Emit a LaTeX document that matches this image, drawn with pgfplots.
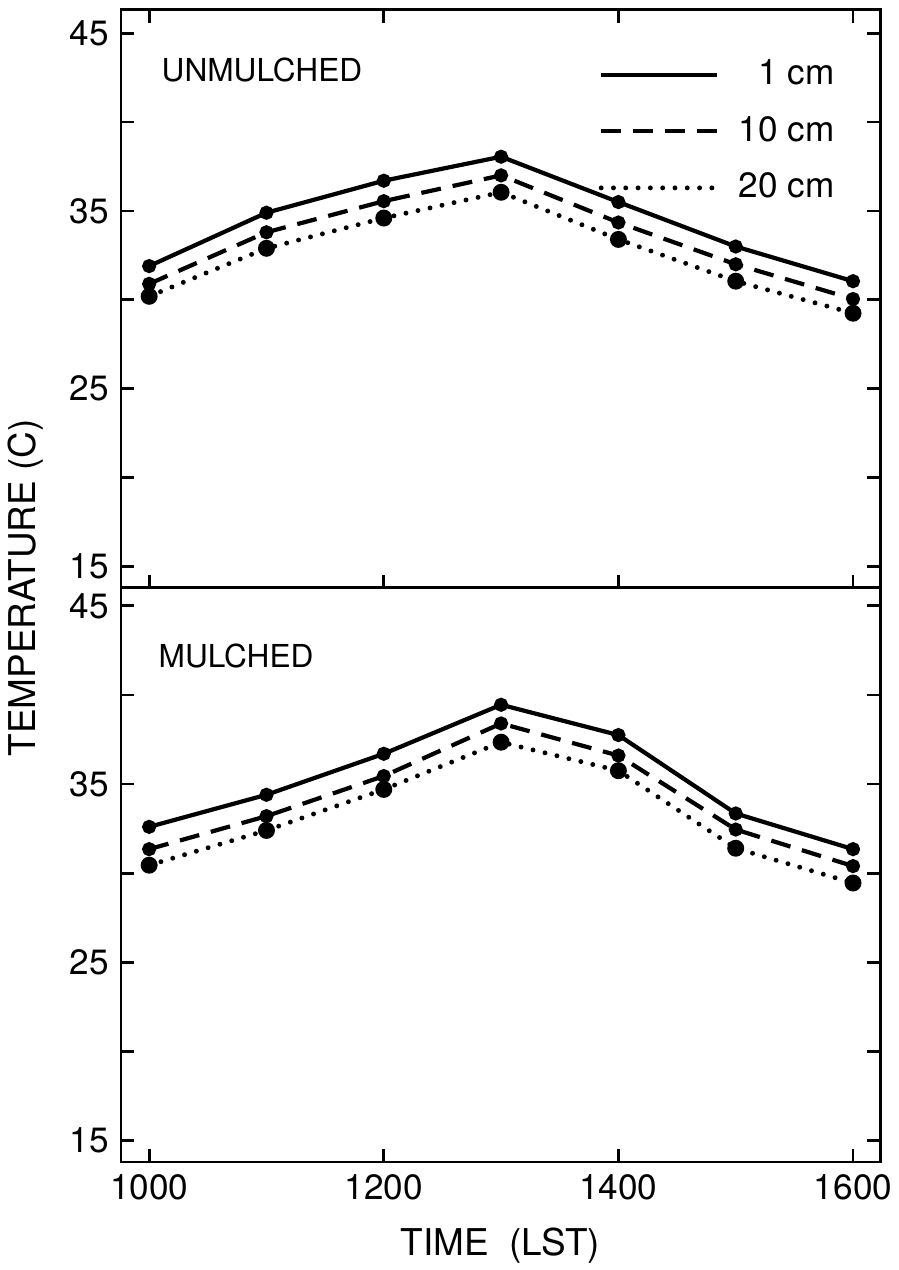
\documentclass[border=0pt]{standalone}
\usepackage{pgfplots}
\pgfplotsset{compat=1.18}
\usepackage{fontspec}
\setmainfont{TeX Gyre Heros}
\pgfplotsset{
  panel/.style={
    scale only axis,
    width=7.59cm,
    xmin=976, xmax=1623,
    xtick={1000,1200,1400,1600},
    ytick={15,20,25,30,35,40,45},
    yticklabels={15,,25,,35,,45},
    tick align=inside,
    major tick length=0.13cm,
    axis line style={line width=0.85pt},
    every tick/.style={line width=0.8pt, black},
    ticklabel style={font=\fontsize{10}{12}\selectfont},
    /pgf/number format/assume math mode=true,
    /pgf/number format/1000 sep={},
    ytick pos=both,
  },
  s1/.style={black, line width=1.2pt, mark=*, mark size=1.4pt, mark options={solid}},
  s2/.style={black, line width=1.2pt, dash pattern=on 0.2cm off 0.12cm, mark=*, mark size=1.4pt, mark options={solid}},
  s3/.style={black, line width=1.4pt, line cap=round, dash pattern=on 0pt off 3.5pt, mark=*, mark size=1.7pt, mark options={solid}},
}
\begin{document}
\begin{tikzpicture}
\path[use as bounding box] (0,0) rectangle (8.99cm,12.7cm);
% top panel
\begin{axis}[panel,
  at={(1.21cm,6.82cm)}, anchor=south west,
  height=5.78cm,
  ymin=13.8, ymax=46.3,
  xtick pos=both,
  xticklabels={},
  legend cell align=right,
  legend style={draw=none, fill=none, at={(1,1)}, anchor=north east,
    xshift=-0.45cm, yshift=-0.49cm, inner sep=0pt,
    nodes={inner sep=0pt}, row sep=7.5pt,
    font=\fontsize{10}{12}\selectfont,
    /tikz/every odd column/.append style={column sep=0.19cm}},
  legend image code/.code={\draw[#1] (0cm,0cm) -- (1.16cm,0cm);},
]
\addplot[s1] coordinates {(1000,31.9)(1100,34.9)(1200,36.7)(1300,38.05)(1400,35.5)(1500,33.0)(1600,31.05)};
\addlegendentry{1 cm}
\addplot[s2] coordinates {(1000,30.9)(1100,33.8)(1200,35.55)(1300,37.0)(1400,34.35)(1500,32.0)(1600,30.05)};
\addlegendentry{10 cm}
\addplot[s3] coordinates {(1000,30.2)(1100,32.9)(1200,34.6)(1300,36.05)(1400,33.4)(1500,31.05)(1600,29.25)};
\addlegendentry{20 cm}
\node[anchor=west, inner sep=0pt, font=\fontsize{9}{11}\selectfont] at (rel axis cs:0.0527,0.896) {UNMULCHED};
\end{axis}
% bottom panel
\begin{axis}[panel,
  at={(1.21cm,1.08cm)}, anchor=south west,
  height=5.74cm,
  ymin=13.8, ymax=46.0,
  xtick pos=bottom,
  xlabel={TIME\ \ (LST)},
  xlabel style={at={(axis description cs:0.5,0)}, anchor=center, yshift=-0.84cm, font=\fontsize{10.5}{12}\selectfont},
]
\addplot[s1] coordinates {(1000,32.6)(1100,34.4)(1200,36.7)(1300,39.45)(1400,37.75)(1500,33.35)(1600,31.35)};
\addplot[s2] coordinates {(1000,31.35)(1100,33.2)(1200,35.45)(1300,38.4)(1400,36.6)(1500,32.45)(1600,30.4)};
\addplot[s3] coordinates {(1000,30.45)(1100,32.4)(1200,34.7)(1300,37.35)(1400,35.75)(1500,31.4)(1600,29.45)};
\node[anchor=west, inner sep=0pt, font=\fontsize{9}{11}\selectfont] at (rel axis cs:0.0487,0.882) {MULCHED};
\end{axis}
\node[rotate=90, font=\fontsize{10.5}{12}\selectfont] at (0.26cm,6.82cm) {TEMPERATURE (C)};
\end{tikzpicture}
\end{document}
